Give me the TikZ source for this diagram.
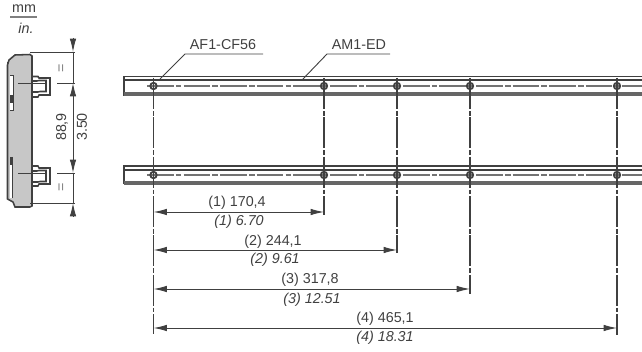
\documentclass[tikz,border=0pt]{standalone}
\usepackage{fontspec}
\setmainfont{Liberation Sans}
\usetikzlibrary{arrows.meta}
\definecolor{bodygray}{gray}{0.78}
\definecolor{inkgray}{gray}{0.25}
\tikzset{
	>={Latex[length=9.5pt,width=4.6pt]},
	outline/.style={draw=inkgray,line width=1.1pt},
	railline/.style={draw=inkgray,line width=0.9pt},
	dimline/.style={draw=inkgray,line width=0.65pt},
	axisline/.style={draw=black!55,line width=1.3pt,dash pattern=on 19pt off 1.5pt on 4pt off 1.5pt},
	holeline/.style={draw=inkgray,line width=0.85pt,dash pattern=on 22pt off 1.3pt on 3.4pt off 1.3pt},
	dimtext/.style={text=inkgray,font=\fontsize{10.2}{12}\selectfont,inner sep=0pt},
	dimitalic/.style={dimtext,font=\fontsize{10.2}{12}\selectfont\itshape}
}
\begin{document}
\begin{tikzpicture}[x=0.025cm,y=-0.025cm]
	\useasboundingbox (0,0) rectangle (642,352);

	% unit key
	\node[dimtext] (mm) at (24,9) {mm};
	\node[dimitalic] (in) at (26,28) {in.};
	\draw[draw=gray,line width=1pt] (10,17) -- (37,17);

	% side view
	\begin{scope}
	\filldraw[outline,fill=bodygray] (15,55) -- (30,54.5) -- (32,56) -- (32,206) -- (30,207) -- (15,207) -- (13,202) -- (7.5,199) -- (7.5,65) -- (9,60) -- cycle;
	\fill[white] (10,75) rectangle (13.5,110);
	\fill[white] (9.5,165) rectangle (12.5,198);
	\draw[dimline] (10,75) -- (13.5,75) -- (13.5,110) -- (10,110);
	\draw[dimline] (12.5,157) -- (12.5,198);
	\fill[inkgray] (10,95) rectangle (13,103);
	\fill[inkgray] (9.5,157) rectangle (12.5,165);
	\draw[outline] (7.5,62) -- (7.5,75);
	\draw[outline] (32,76.5) -- (38,76.5) -- (39,78) -- (50,78) -- (50,95) -- (39,95) -- (38,97) -- (32,97);
	\draw[outline] (32,81) -- (37,81) -- (39,80.5) -- (46,80.5) -- (46,91.5) -- (40,91.5) -- (38,92) -- (32,92);
	\draw[outline] (32,166) -- (38,166) -- (39,168) -- (50,168) -- (50,184) -- (39,184) -- (38,186) -- (32,186);
	\draw[outline] (32,171) -- (37,171) -- (39,170.5) -- (46,170.5) -- (46,181.5) -- (40,181.5) -- (38,182) -- (32,182);
	\end{scope}

	% side view dimension
	\coordinate (topA) at (73,38);
	\coordinate (topB) at (73,52);
	\coordinate (midA) at (73,83);
	\coordinate (midB) at (73,173);
	\coordinate (botA) at (73,203);
	\coordinate (botB) at (73,217);
	\draw[dimline] (30,52) -- (75,52);
	\draw[dimline] (18,83) -- (45,83) (57,83) -- (75,83);
	\draw[dimline] (18,173) -- (45,173) (57,173) -- (75,173);
	\draw[dimline] (30,203) -- (75,203);
	\draw[dimline,->] (topA) -- (topB);
	\draw[dimline,<->] (midA) -- (midB);
	\draw[dimline] (topB) -- (midA) (midB) -- (botA);
	\draw[dimline,->] (botB) -- (botA);
	\node[dimtext,text=gray,rotate=90] (eqtop) at (62,68) {=};
	\node[dimtext,text=gray,rotate=90] (eqbot) at (62,187) {=};
	\node[dimtext,rotate=90] (pitchmm) at (62,127) {88,9};
	\node[dimtext,rotate=90] (pitchin) at (82,127) {3.50};

	% upper rail
	\begin{scope}
	\draw[railline] (642,76.5) -- (124,76.5) -- (124,95) -- (642,95);
	\draw[railline] (124,80) -- (642,80);
	\fill[inkgray!80] (124,92.5) rectangle (642,96);
	\draw[axisline] (147,86) -- (642,86);
	\end{scope}

	% lower rail
	\begin{scope}[yshift=-2.225cm]
	\draw[railline] (642,77) -- (124,77) -- (124,94) -- (642,94);
	\draw[railline] (124,81) -- (642,81);
	\fill[inkgray!80] (124,91.5) rectangle (642,95.5);
	\draw[axisline] (147,86) -- (642,86);
	\end{scope}

	% hole axes
	\coordinate (axA) at (153.5,78);
	\coordinate (axB) at (324,78);
	\coordinate (axC) at (397,78);
	\coordinate (axD) at (470,78);
	\coordinate (axE) at (617,78);
	\coordinate (endA) at (153.5,334);
	\coordinate (endB) at (324,215);
	\coordinate (endC) at (397,253);
	\coordinate (endD) at (470,294);
	\coordinate (endE) at (617,335);
	\draw[holeline] (axA) -- (endA);
	\draw[holeline] (axB) -- (endB);
	\draw[holeline] (axC) -- (endC);
	\draw[holeline] (axD) -- (endD);
	\draw[holeline] (axE) -- (endE);

	% holes
	\foreach \hx in {153.5,324,397,470,617} {
		\draw[draw=inkgray,line width=1.3pt] (\hx,86) circle (3.2);
		\draw[draw=inkgray,line width=1.3pt] (\hx,175) circle (3.2);
	}

	% part labels
	\node[dimtext] (cf) at (223,45) {AF1-CF56};
	\node[dimtext] (ed) at (359,45) {AM1-ED};
	\coordinate (cfEnd) at (160,79);
	\coordinate (edEnd) at (302,80);
	\draw[dimline] (263,54) -- (185,54) -- (cfEnd);
	\draw[dimline] (390,54) -- (327,54) -- (edEnd);

	% lengths
	\coordinate (dimA1) at (153.5,212);
	\coordinate (dimB1) at (324,212);
	\coordinate (dimA2) at (153.5,250);
	\coordinate (dimB2) at (397,250);
	\coordinate (dimA3) at (153.5,289);
	\coordinate (dimB3) at (470,289);
	\coordinate (dimA4) at (153.5,328);
	\coordinate (dimB4) at (617,328);
	\draw[dimline,<->] (dimA1) -- (dimB1);
	\draw[dimline,<->] (dimA2) -- (dimB2);
	\draw[dimline,<->] (dimA3) -- (dimB3);
	\draw[dimline,<->] (dimA4) -- (dimB4);

	\node[dimtext] (lenmm1) at (237,203) {(1) 170,4};
	\node[dimitalic] (lenin1) at (239,222) {(1) 6.70};
	\node[dimtext] (lenmm2) at (273,242) {(2) 244,1};
	\node[dimitalic] (lenin2) at (275,260) {(2) 9.61};
	\node[dimtext] (lenmm3) at (310,280) {(3) 317,8};
	\node[dimitalic] (lenin3) at (312,300) {(3) 12.51};
	\node[dimtext] (lenmm4) at (385,319) {(4) 465,1};
	\node[dimitalic] (lenin4) at (385,338) {(4) 18.31};
\end{tikzpicture}
\end{document}
